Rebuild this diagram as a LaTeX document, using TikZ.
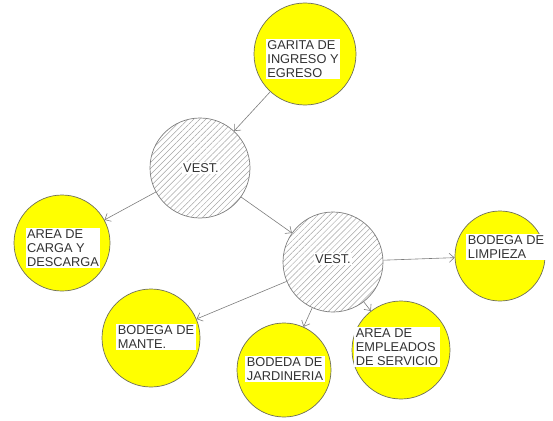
\documentclass[tikz,border=0pt]{standalone}
\usepackage{fontspec}
\setmainfont{Liberation Sans}
\usetikzlibrary{arrows.meta,patterns.meta}
\definecolor{lineg}{RGB}{125,125,125}
\definecolor{ringg}{RGB}{110,110,90}
\definecolor{hatchg}{RGB}{165,165,165}
\definecolor{yel}{RGB}{255,255,0}
\begin{document}
\begin{tikzpicture}[x=1pt,y=-1pt,
  room/.style={circle,draw=ringg,line width=0.7pt,fill=yel,inner sep=0pt,minimum size=#1},
  vest/.style={circle,draw=lineg,line width=0.7pt,inner sep=0pt,minimum size=#1,
    pattern={Lines[angle=45,distance=4.2pt,line width=0.5pt]},pattern color=hatchg},
  lbl/.style={fill=white,inner sep=1.5pt,align=left,font=\fontsize{12.8}{14}\selectfont,text=black!80},
  conn/.style={draw=lineg,line width=0.6pt,-{Straight Barb[length=5pt,width=9pt]}}]
\useasboundingbox (0,0) rectangle (553,420);
\node[room=102pt] (garita) at (305,54) {};
\node[vest=100pt] (vest1) at (200,168) {};
\node[room=96pt] (carga) at (62,243) {};
\node[vest=100pt] (vest2) at (333,262) {};
\node[room=90pt] (limpieza) at (500,256) {};
\node[room=98pt] (mante) at (151,338) {};
\node[room=94pt] (jardin) at (284,370) {};
\node[room=98pt] (empleados) at (401,350) {};

\node[lbl] (tgarita) at (303,59) {GARITA DE\\INGRESO Y\\EGRESO};
\node[lbl] (tvest1) at (201,168) {VEST.};
\node[lbl] (tcarga) at (63,248) {AREA DE\\CARGA Y\\DESCARGA};
\node[lbl] (tvest2) at (333,259) {VEST.};
\node[lbl] (tlimpieza) at (506,247) {BODEGA DE\\LIMPIEZA};
\node[lbl] (tmante) at (156,337) {BODEGA DE\\MANTE.};
\node[lbl] (tjardin) at (285,369) {BODEDA DE\\JARDINERIA};
\node[lbl] (templeados) at (397,347) {AREA DE\\EMPLEADOS\\DE SERVICIO};

\draw[conn] (garita) -- (vest1);
\draw[conn] (vest1) -- (carga);
\draw[conn] (vest1) -- (vest2);
\draw[conn] (vest2) -- (limpieza);
\draw[conn] (vest2) -- (mante);
\draw[conn] (vest2) -- (jardin);
\draw[conn] (vest2) -- (empleados);
\end{tikzpicture}
\end{document}
